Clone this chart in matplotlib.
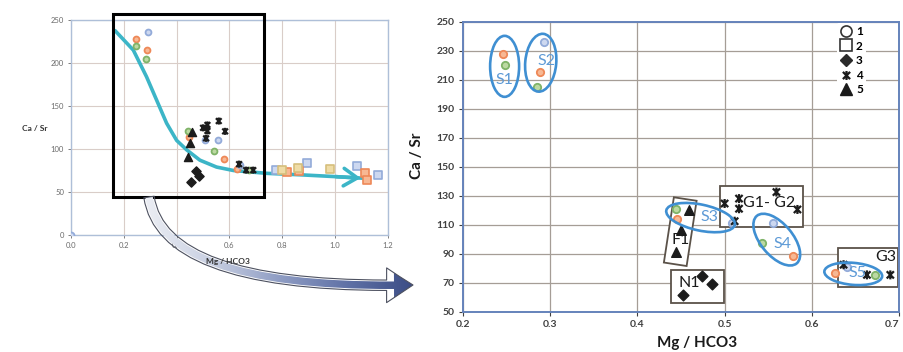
import numpy as np
import matplotlib
matplotlib.use("Agg")
import matplotlib.pyplot as plt
from matplotlib import transforms
from matplotlib.patches import Ellipse, Rectangle, FancyArrowPatch
from matplotlib.path import Path
from matplotlib.lines import Line2D
from matplotlib.colors import LinearSegmentedColormap

plt.rcParams["font.family"] = ["Lato", "DejaVu Sans"]

# ============================================================
# Data
# ============================================================
# type 1 : circles, coloured by group
circ_orange_x = [0.246, 0.288, 0.445, 0.578, 0.627]
circ_orange_y = [228, 215, 114, 88.6, 77]
circ_green_x = [0.248, 0.285, 0.4445, 0.543, 0.672]
circ_green_y = [220, 205, 121, 97.5, 75.5]
circ_blue_x = [0.0, 0.293, 0.508, 0.555, 0.640]
circ_blue_y = [0, 236, 111, 111, 81]

# type 2 : squares
sq_blue_x = [0.776, 0.895, 1.084, 1.163]
sq_blue_y = [75, 84, 80, 70]
sq_orange_x = [0.816, 0.862, 1.113, 1.119]
sq_orange_y = [73.5, 74, 72, 64]
sq_yellow_x = [0.797, 0.858, 0.980]
sq_yellow_y = [75.6, 78, 76.5]

# type 3 : diamonds
dia_x = [0.4525, 0.4744, 0.4858]
dia_y = [61.6, 74.7, 69]

# type 4 : stars
star_x = [0.500, 0.5165, 0.5165, 0.5115, 0.5594, 0.5835, 0.6364, 0.6632, 0.690]
star_y = [124.6, 128, 121, 112.4, 132.5, 120.5, 82.4, 75.4, 75.4]

# type 5 : triangles
tri_x = [0.4594, 0.450, 0.4445]
tri_y = [120, 106.6, 90.9]

# trend curve on the overview plot
curve_x = [0.167, 0.236, 0.286, 0.324, 0.362, 0.400, 0.438, 0.488, 0.551,
           0.615, 0.741, 0.867, 0.993, 1.107]
curve_y = [237.6, 215, 184, 157, 130, 110, 99, 87, 79, 75, 71.7, 70, 68, 66]

# ============================================================
# Style
# ============================================================
ORANGE = ("#f7b894", "#ee8857")
GREEN = ("#bcd9a2", "#7fb368")
BLUE = ("#cdd8f0", "#93abd9")
YELLOW = ("#efdca6", "#d6bf7c")
DARK = "#1c1c1c"
CYAN = "#3cb5c7"
ELL_BLUE = "#3f8fd2"
TXT_BLUE = "#5d9ad6"
BOX_EDGE = "#5b5249"

STAR = Path([(-1, -1), (1, 1), (-1, 1), (1, -1), (0, -1.25), (0, 1.25)],
            [Path.MOVETO, Path.LINETO, Path.MOVETO, Path.LINETO,
             Path.MOVETO, Path.LINETO])


def draw_points(ax, s_c, s_sq, s_d, s_st, s_t):
    for xs, ys, (fc, ec) in [(circ_orange_x, circ_orange_y, ORANGE),
                             (circ_green_x, circ_green_y, GREEN),
                             (circ_blue_x, circ_blue_y, BLUE)]:
        ax.scatter(xs, ys, s=s_c, marker="o", facecolor=fc, edgecolor=ec,
                   linewidths=1.3, zorder=4)
    for xs, ys, (fc, ec) in [(sq_blue_x, sq_blue_y, BLUE),
                             (sq_orange_x, sq_orange_y, ORANGE),
                             (sq_yellow_x, sq_yellow_y, YELLOW)]:
        ax.scatter(xs, ys, s=s_sq, marker="s", facecolor=fc, edgecolor=ec,
                   linewidths=1.2, zorder=4)
    ax.scatter(dia_x, dia_y, s=s_d, marker="D", color=DARK, zorder=5)
    ax.scatter(star_x, star_y, s=s_st, marker=STAR, facecolor="none",
               edgecolor=DARK, linewidths=1.6, zorder=5)
    ax.scatter(tri_x, tri_y, s=s_t, marker="^", color=DARK, zorder=5)


fig = plt.figure(figsize=(9.04, 3.52), dpi=100)

# ============================================================
# Left: overview plot
# ============================================================
ax_l = fig.add_axes([0.0785, 0.3324, 0.3507, 0.6108])
ax_l.set_xlim(0, 1.2)
ax_l.set_ylim(0, 250)
ax_l.set_xticks(np.arange(0, 1.21, 0.2))
ax_l.set_yticks(np.arange(0, 251, 50))
ax_l.xaxis.set_major_formatter(matplotlib.ticker.FormatStrFormatter("%.1f"))
ax_l.grid(True, color="#d9cdc8", lw=0.8, zorder=0)
ax_l.set_axisbelow(True)
for sp in ax_l.spines.values():
    sp.set_color("#aebfd8")
    sp.set_linewidth(1.0)
ax_l.tick_params(labelsize=5.5, colors="#6a6a6a", length=2, width=0.6, pad=3)

draw_points(ax_l, 18, 26, 22, 26, 34)
ax_l.plot(curve_x, curve_y, color=CYAN, lw=2.6, solid_capstyle="round", zorder=3)
ax_l.annotate("", xy=(curve_x[-1], curve_y[-1]), xytext=(curve_x[-2], curve_y[-2]),
              arrowprops=dict(arrowstyle="->,head_length=0.7,head_width=0.45",
                              color=CYAN, lw=2.6, mutation_scale=14), zorder=3)

ax_l.add_patch(Rectangle((0.16, 44), 0.57, 213, fill=False, ec="black",
                         lw=2.2, clip_on=False, zorder=6))

fig.text(0.0387, 0.636, "Ca / Sr", fontsize=6, fontweight="bold",
         color="#333333", ha="center", va="center")
fig.text(0.252, 0.256, "Mg / HCO3", fontsize=6, fontweight="bold",
         color="#333333", ha="center", va="center")

# ============================================================
# Right: zoomed plot
# ============================================================
ax_r = fig.add_axes([0.5122, 0.1145, 0.4823, 0.8239])
ax_r.set_xlim(0.2, 0.7)
ax_r.set_ylim(50, 250)
ax_r.set_xticks(np.arange(0.2, 0.71, 0.1))
ax_r.set_yticks(np.arange(50, 251, 20))
ax_r.xaxis.set_major_formatter(matplotlib.ticker.FormatStrFormatter("%.1f"))
ax_r.grid(True, color="#a59d96", lw=0.9, zorder=0)
ax_r.set_axisbelow(True)
for sp in ax_r.spines.values():
    sp.set_color("#6583bb")
    sp.set_linewidth(1.4)
ax_r.tick_params(labelsize=7.5, colors="#404040", length=3, width=0.8, pad=3)
for lab in ax_r.get_xticklabels() + ax_r.get_yticklabels():
    lab.set_fontweight("bold")
ax_r.get_xticklabels()[-1].set_horizontalalignment("right")

draw_points(ax_r, 28, 30, 30, 42, 48)


def px_offset(ax, x, y):
    return transforms.ScaledTranslation(x, y, ax.transData)


# groups drawn as ellipses (sizes in pixels)
ellipses = [
    ((0.2477, 219.2), 29, 61, 0),
    ((0.2891, 221.7), 31, 58, -5),
    ((0.4724, 114.9), 70, 26, -12),
    ((0.5598, 99.7), 62, 32, -50),
    ((0.6475, 76.1), 58, 22, -5),
]
for (cx, cy), w, h, ang in ellipses:
    ax_r.add_patch(Ellipse((0, 0), w, h, angle=ang, fill=False, ec=ELL_BLUE,
                           lw=1.9, transform=px_offset(ax_r, cx, cy), zorder=6))

# boxes
box_kw = dict(fc="white", ec=BOX_EDGE, lw=1.3, alpha=1.0, zorder=2)
for x0, x1, y0, y1 in [(0.438, 0.4992, 56.2, 78.9),
                       (0.4946, 0.5904, 108.5, 136.6),
                       (0.6295, 0.6985, 67.3, 94.0)]:
    ax_r.add_patch(Rectangle((x0, y0), x1 - x0, y1 - y0, **box_kw))
ax_r.add_patch(Rectangle((-11.5, -33), 23, 66, fc="white", ec=BOX_EDGE, lw=1.3,
                         transform=transforms.Affine2D().rotate_deg(-8.7)
                         + px_offset(ax_r, 0.4491, 105.2), zorder=2))

txt_kw = dict(fontsize=11.5, ha="center", va="center", zorder=7)
for lbl, tx, ty in [("S1", 0.2479, 210.1), ("S2", 0.2962, 222.8),
                    ("S3", 0.482, 115), ("S4", 0.566, 97), ("S5", 0.6525, 76.5)]:
    ax_r.text(tx, ty, lbl, color=TXT_BLUE, **txt_kw)
for lbl, tx, ty in [("F1", 0.4494, 99.6), ("N1", 0.459, 69.7),
                    ("G1- G2", 0.551, 125), ("G3", 0.685, 87.5)]:
    ax_r.text(tx, ty, lbl, color="#1a1a1a", **txt_kw)

handles = [
    Line2D([], [], ls="", marker="o", mfc="white", mec="#333333", mew=1.2, ms=8),
    Line2D([], [], ls="", marker="s", mfc="white", mec="#333333", mew=1.2, ms=8),
    Line2D([], [], ls="", marker="D", mfc="#2a2a2a", mec="#2a2a2a", ms=6.5),
    Line2D([], [], ls="", marker=STAR, mfc="none", mec="#1a1a1a", mew=1.6, ms=6.5),
    Line2D([], [], ls="", marker="^", mfc="#1a1a1a", mec="#1a1a1a", ms=8),
]
leg = ax_r.legend(handles, ["1", "2", "3", "4", "5"], loc="upper left",
                  bbox_to_anchor=(0.858, 0.995), frameon=True, framealpha=1,
                  edgecolor="none", facecolor="white",
                  prop=dict(size=8.5, weight="bold"), handlelength=1.0,
                  handletextpad=0.35, labelspacing=0.3, borderpad=0.25,
                  borderaxespad=0)
leg.set_zorder(8)

fig.text(0.461, 0.557, "Ca / Sr", fontsize=11, fontweight="bold", rotation=90,
         color="#1a1a1a", ha="center", va="center")
fig.text(0.771, 0.026, "Mg / HCO3", fontsize=11, fontweight="bold",
         color="#1a1a1a", ha="center", va="center")

# ============================================================
# Curved gradient arrow linking both plots (pixel space)
# ============================================================
ax_o = fig.add_axes([0, 0, 1, 1])
ax_o.patch.set_visible(False)
ax_o.axis("off")
arrow_path = Path([(149, 197), (163, 290), (413, 285)],
                  [Path.MOVETO, Path.CURVE3, Path.CURVE3])
arrow = FancyArrowPatch(path=arrow_path,
                        arrowstyle="simple,head_length=19,head_width=25,tail_width=7.5",
                        mutation_scale=1, fc="none", ec="#4d5160", lw=0.8,
                        transform=ax_o.transData, zorder=3)
ax_o.add_patch(arrow)
grad_cmap = LinearSegmentedColormap.from_list(
    "arr", ["#eef0f5", "#c9d0e2", "#8f9dc4", "#5e70a5", "#394a82"])
im = ax_o.imshow(np.linspace(0, 1, 256).reshape(1, -1), cmap=grad_cmap,
                 extent=(140, 420, 305, 190), aspect="auto", zorder=2)
im.set_clip_path(arrow)
ax_o.set_xlim(0, 904)
ax_o.set_ylim(352, 0)

fig.savefig("out.png", dpi=100)
